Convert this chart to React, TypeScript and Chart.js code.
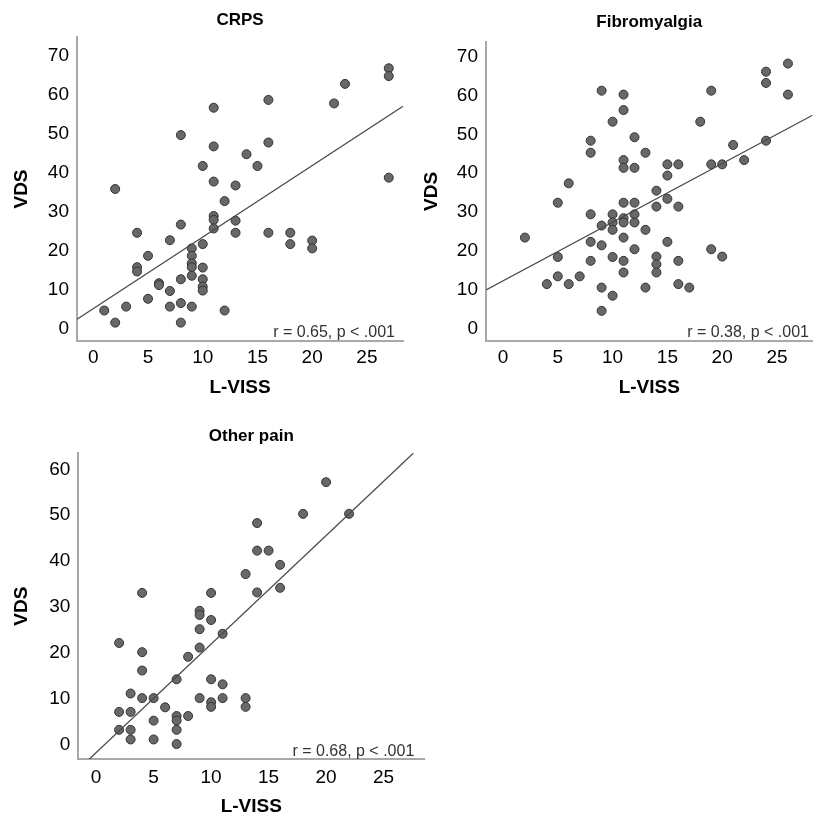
import React, { useEffect, useRef } from 'react';
import { Chart, registerables } from 'chart.js';

Chart.register(...registerables);

// ---------- DATA ----------
const crpsX = [1, 2, 2, 3, 4, 4, 4, 5, 5, 6, 6, 7, 7, 7, 8, 8, 8, 8, 8, 9, 9, 9, 9, 9, 9, 10, 10, 10, 10, 10, 10, 11, 11, 11, 11, 11, 11, 12, 12, 13, 13, 13, 14, 15, 16, 16, 16, 18, 18, 20, 20, 22, 23, 27, 27, 27];
const crpsY = [4.7, 1.6, 35.8, 5.7, 24.6, 15.8, 14.7, 18.7, 7.7, 11.7, 11.2, 22.7, 9.7, 5.7, 26.7, 12.7, 6.6, 1.6, 49.6, 20.6, 18.7, 16.8, 15.8, 13.6, 5.7, 21.7, 15.7, 12.7, 10.8, 9.8, 41.7, 56.6, 46.7, 37.7, 28.9, 27.9, 25.7, 32.7, 4.7, 36.7, 27.7, 24.6, 44.7, 41.7, 58.6, 47.7, 24.6, 24.6, 21.7, 22.6, 20.6, 57.7, 62.7, 66.7, 64.7, 38.7];

const fibroX = [2, 4, 5, 5, 5, 6, 6, 7, 8, 8, 8, 8, 8, 9, 9, 9, 9, 9, 10, 10, 10, 10, 10, 10, 11, 11, 11, 11, 11, 11, 11, 11, 11, 11, 12, 12, 12, 12, 12, 12, 13, 13, 13, 14, 14, 14, 14, 14, 15, 15, 15, 15, 16, 16, 16, 16, 17, 18, 19, 19, 19, 20, 20, 21, 22, 24, 24, 24, 26, 26];
const fibroY = [23.4, 11.4, 32.4, 18.4, 13.4, 37.4, 11.4, 13.4, 48.4, 45.3, 29.4, 22.3, 17.4, 61.3, 26.5, 21.4, 10.5, 4.5, 53.3, 29.4, 27.3, 25.4, 18.4, 8.4, 60.3, 56.3, 43.4, 41.4, 32.4, 28.4, 27.3, 23.4, 17.4, 14.4, 49.3, 41.4, 32.4, 29.4, 27.3, 20.4, 45.3, 25.4, 10.5, 35.5, 31.4, 18.5, 16.5, 14.4, 42.3, 39.4, 33.4, 22.3, 42.3, 31.4, 17.4, 11.4, 10.5, 53.3, 61.3, 42.3, 20.4, 42.3, 18.5, 47.3, 43.4, 66.2, 63.3, 48.4, 68.3, 60.3];

const otherX = [2, 2, 2, 3, 3, 3, 3, 4, 4, 4, 4, 5, 5, 5, 6, 7, 7, 7, 7, 7, 8, 8, 9, 9, 9, 9, 9, 10, 10, 10, 10, 10, 11, 11, 11, 13, 13, 13, 14, 14, 14, 15, 16, 16, 18, 20, 22];
const otherY = [22.2, 7.2, 3.3, 11.2, 7.2, 3.3, 1.2, 33.1, 20.2, 16.2, 10.2, 10.2, 5.3, 1.2, 8.2, 14.3, 6.3, 5.3, 3.3, 0.2, 19.2, 6.3, 29.2, 28.3, 25.2, 21.2, 10.2, 33.1, 27.2, 14.3, 9.3, 8.3, 24.2, 13.2, 10.2, 37.2, 10.2, 8.3, 48.3, 42.3, 33.2, 42.3, 39.2, 34.2, 50.3, 57.2, 50.3];

const panelTitles = ['CRPS', 'Fibromyalgia', 'Other pain'];
const rLabels = ['r = 0.65, p < .001', 'r = 0.38, p < .001', 'r = 0.68, p < .001'];
const fitIntercepts = [5.2, 12.23, -1.66];
const fitSlopes = [1.83, 1.513, 2.362];
const xTickStep = 5;
const yTickStep = 10;
const xAxisTitle = 'L-VISS';
const yAxisTitle = 'VDS';

// ---------- LAYOUT / STYLE ----------
const FONT = '"Liberation Sans", Arial, Helvetica, sans-serif';
Chart.defaults.font.family = FONT;

type Panel = {
  xs: number[]; ys: number[]; idx: number;
  left: number; top: number; w: number; h: number;
  yw: number; xh: number; pr: number;
  tPadTop: number; tPadBot: number;
  xMin: number; xMax: number; yMin: number; yMax: number;
  xTickPad: number; xTitlePadBot: number;
  rdx: number; rdy: number;
};

const panels: Panel[] = [
  { xs: crpsX, ys: crpsY, idx: 0, left: 0, top: 0, w: 410, h: 410, yw: 77, xh: 69, pr: 7,
    tPadTop: 10.5, tPadBot: 6.1, xMin: -1.49, xMax: 28.3, yMin: -3.1, yMax: 74.7,
    xTickPad: 5.5, xTitlePadBot: 10.6, rdx: 8, rdy: 4 },
  { xs: fibroX, ys: fibroY, idx: 1, left: 410, top: 0, w: 408, h: 410, yw: 76, xh: 69, pr: 1.3,
    tPadTop: 12.5, tPadBot: 8.8, xMin: -1.55, xMax: 28.24, yMin: -3.28, yMax: 73.94,
    xTickPad: 5.5, xTitlePadBot: 10.6, rdx: 3.5, rdy: 3.7 },
  { xs: otherX, ys: otherY, idx: 2, left: 0, top: 410, w: 430, h: 413, yw: 78.3, xh: 64, pr: 5.7,
    tPadTop: 16.3, tPadBot: 6.6, xMin: -1.55, xMax: 28.54, yMin: -3.05, yMax: 63.48,
    xTickPad: 7.5, xTitlePadBot: 4.6, rdx: 10, rdy: 3.3 },
];

const rTextPlugin = {
  id: 'rText',
  afterDatasetsDraw(chart: any, _args: any, opts: any) {
    const { ctx, chartArea } = chart;
    ctx.save();
    ctx.font = `16px ${FONT}`;
    ctx.fillStyle = '#333';
    ctx.textAlign = 'right';
    ctx.textBaseline = 'alphabetic';
    ctx.fillText(opts.text, chartArea.right - opts.dx, chartArea.bottom - opts.dy);
    ctx.restore();
  },
};

function ScatterPanel({ p }: { p: Panel }) {
  const ref = useRef<HTMLCanvasElement | null>(null);
  useEffect(() => {
    if (!ref.current) return;
    const pts = p.xs.map((x, i) => ({ x, y: p.ys[i] }));
    const b0 = fitIntercepts[p.idx];
    const b1 = fitSlopes[p.idx];
    const fit = [
      { x: p.xMin, y: b0 + b1 * p.xMin },
      { x: p.xMax, y: b0 + b1 * p.xMax },
    ];
    const chart = new Chart(ref.current, {
      type: 'scatter',
      data: {
        datasets: [
          {
            type: 'line',
            data: fit,
            borderColor: '#4a4a4a',
            borderWidth: 1.3,
            pointRadius: 0,
            fill: false,
            clip: 0,
            order: 0,
          } as any,
          {
            type: 'scatter',
            data: pts,
            pointRadius: 4.5,
            pointHoverRadius: 4.5,
            backgroundColor: '#686868',
            borderColor: '#333333',
            borderWidth: 1,
            order: 1,
          } as any,
        ],
      },
      options: {
        animation: false,
        responsive: false,
        events: [],
        layout: { padding: { left: 0, right: p.pr, top: 0, bottom: 0 } },
        plugins: {
          legend: { display: false },
          tooltip: { enabled: false },
          title: {
            display: true,
            text: panelTitles[p.idx],
            fullSize: false,
            color: '#000',
            font: { size: 17, weight: 'bold', family: FONT, lineHeight: 1.2 },
            padding: { top: p.tPadTop, bottom: p.tPadBot },
          },
          rText: { text: rLabels[p.idx], dx: p.rdx, dy: p.rdy },
        } as any,
        scales: {
          x: {
            type: 'linear',
            min: p.xMin,
            max: p.xMax,
            grid: { display: false, drawTicks: false },
            border: { display: true, color: '#a8a8a8', width: 2 },
            ticks: {
              stepSize: xTickStep,
              includeBounds: false,
              autoSkip: false,
              maxRotation: 0,
              color: '#000',
              padding: p.xTickPad,
              font: { size: 19, family: FONT },
            },
            title: {
              display: true,
              text: xAxisTitle,
              color: '#000',
              font: { size: 19, weight: 'bold', family: FONT, lineHeight: 1.2 },
              padding: { top: 0, bottom: p.xTitlePadBot },
            },
            afterFit: (s: any) => { s.height = p.xh; },
          },
          y: {
            type: 'linear',
            min: p.yMin,
            max: p.yMax,
            grid: { display: false, drawTicks: false },
            border: { display: true, color: '#a8a8a8', width: 2 },
            ticks: {
              stepSize: yTickStep,
              includeBounds: false,
              autoSkip: false,
              color: '#000',
              padding: 8,
              font: { size: 19, family: FONT },
            },
            title: {
              display: true,
              text: yAxisTitle,
              color: '#000',
              font: { size: 19, weight: 'bold', family: FONT, lineHeight: 1.2 },
              padding: { top: 10, bottom: 0 },
            },
            afterFit: (s: any) => { s.width = p.yw; },
          },
        },
      },
      plugins: [rTextPlugin as any],
    });
    return () => chart.destroy();
  }, [p]);
  return (
    <canvas
      ref={ref}
      width={p.w}
      height={p.h}
      style={{ position: 'absolute', left: p.left, top: p.top, width: p.w, height: p.h }}
    />
  );
}

export default function App() {
  return (
    <div style={{ position: 'absolute', left: 0, top: 0, width: 818, height: 823, background: '#fff' }}>
      {panels.map((p) => (
        <ScatterPanel key={p.idx} p={p} />
      ))}
    </div>
  );
}
